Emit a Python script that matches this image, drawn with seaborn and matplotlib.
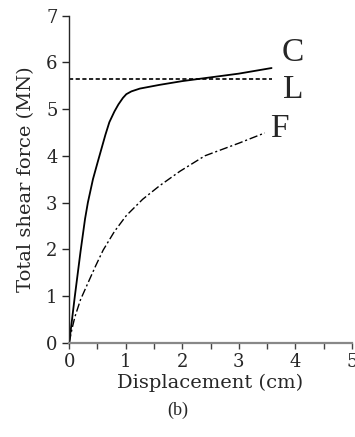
import matplotlib
matplotlib.use("Agg")
import matplotlib.pyplot as plt
import seaborn as sns
import numpy as np

# curve C (solid)
c_x = [0.0, 0.1, 0.2, 0.28, 0.33, 0.42, 0.5, 0.57, 0.64, 0.71, 0.8, 0.87, 0.95, 1.01, 1.1, 1.25, 1.6, 2.0, 2.5, 3.0, 3.58]
c_y = [0.0, 1.0, 1.95, 2.65, 3.0, 3.5, 3.85, 4.15, 4.45, 4.72, 4.95, 5.1, 5.24, 5.32, 5.38, 5.44, 5.52, 5.6, 5.68, 5.76, 5.88]

# line L (dashed)
l_x = [0.0, 3.58]
l_y = [5.65, 5.65]

# curve F (dash-dot)
f_x = [0.0, 0.05, 0.1, 0.2, 0.34, 0.47, 0.6, 0.8, 1.01, 1.3, 1.6, 1.96, 2.4, 3.0, 3.46]
f_y = [0.0, 0.3, 0.55, 0.92, 1.3, 1.65, 1.98, 2.38, 2.72, 3.07, 3.36, 3.67, 4.0, 4.27, 4.49]

labels = ["C", "L", "F"]
label_pos = [(3.95, 6.2), (3.97, 5.42), (3.72, 4.58)]

sns.set_style("ticks")
plt.rcParams['font.family'] = ['DejaVu Serif']

fig = plt.figure(figsize=(3.55, 4.37), dpi=100)
ax = fig.add_axes([0.195, 0.216, 0.796, 0.748])

sns.lineplot(x=c_x, y=c_y, ax=ax, color="black", lw=1.3, sort=False)
sns.lineplot(x=l_x, y=l_y, ax=ax, color="black", lw=1.2, linestyle=(0, (2.5, 1.5)), sort=False)
sns.lineplot(x=f_x, y=f_y, ax=ax, color="black", lw=1.0, linestyle=(0, (6, 2, 1.5, 2)), sort=False)

for lab, (px, py) in zip(labels, label_pos):
    ax.text(px, py, lab, family="Liberation Serif", fontsize=24, ha="center", va="center")

ax.set_xlim(0, 5)
ax.set_ylim(0, 7)
ax.set_xticks([0, 1, 2, 3, 4, 5])
ax.set_xticks(np.arange(0.5, 5, 1.0), minor=True)
ax.set_yticks(range(0, 8))
sns.despine(ax=ax)
ax.spines['bottom'].set_color("#888888")
ax.spines['bottom'].set_linewidth(1.6)
ax.spines['left'].set_linewidth(1.0)
ax.tick_params(axis="x", which="both", length=4, width=1, color="#444444", labelsize=13)
ax.tick_params(axis="y", length=5, width=1, labelsize=13)
ax.set_xlabel("Displacement (cm)", fontsize=14, labelpad=2)
ax.set_ylabel("Total shear force (MN)", fontsize=14, labelpad=8)

fig.text(0.5, 0.062, "(b)", family="Liberation Serif", fontsize=13, ha="center", va="center")

fig.savefig("out.png", dpi=100)
